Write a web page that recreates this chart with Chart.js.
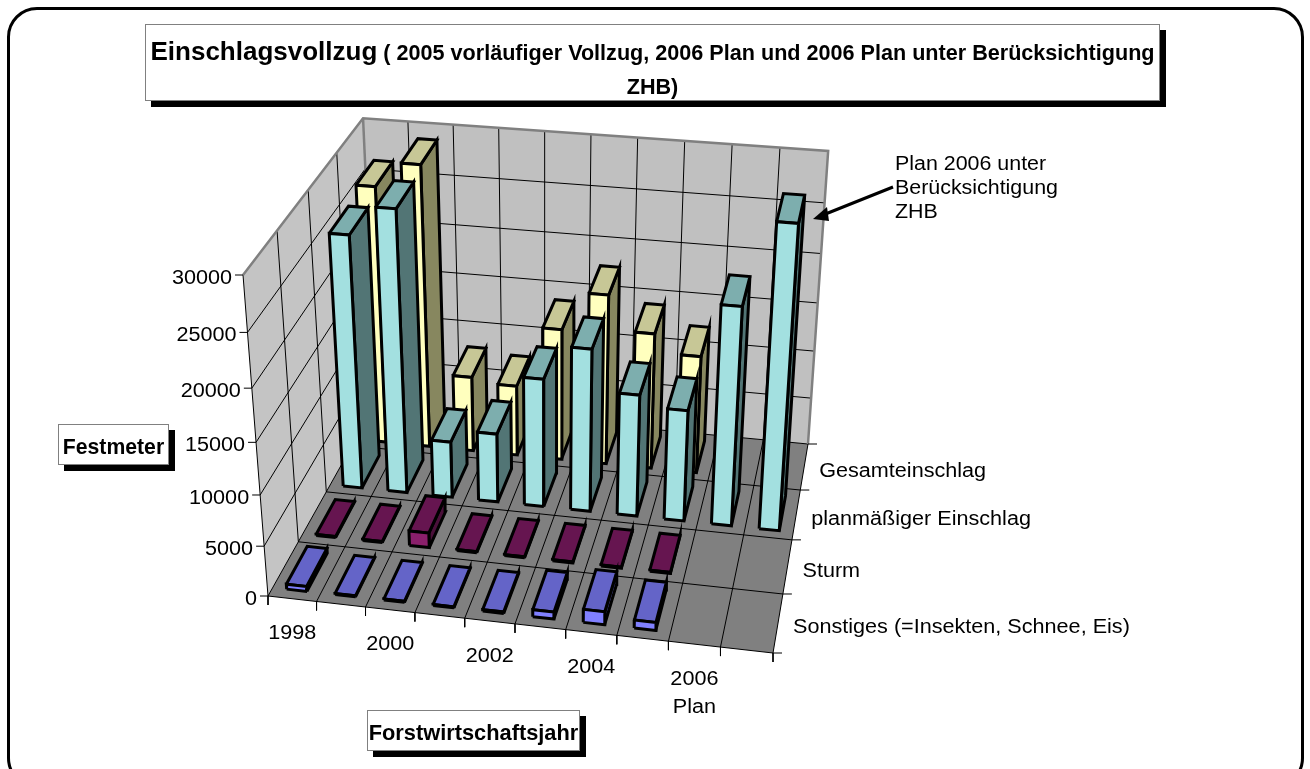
<!DOCTYPE html>
<html>
<head>
<meta charset="utf-8">
<script src="https://cdn.jsdelivr.net/npm/chart.js@4/dist/chart.umd.js"></script>
<style>
  html, body { margin:0; padding:0; background:#fff; overflow:hidden; }
  body { width:1310px; height:769px; position:relative; font-family:"Liberation Sans",Arial,sans-serif; color:#000; }
  #frame { position:absolute; left:7px; top:7px; width:1291px; height:775px; border:3px solid #000; border-radius:30px; }
  canvas { position:absolute; left:0; top:0; }
  .box { position:absolute; background:#fff; border:1px solid #808080; box-shadow:6px 6px 0 #000; font-weight:bold; text-align:center; box-sizing:border-box; white-space:nowrap; }
  #title { left:145px; top:24px; width:1015px; height:77px; line-height:34px; font-size:21.6px; padding-top:9px; }
  #title b { font-size:26px; }
  #yname { left:58px; top:424px; width:111px; height:41px; line-height:44px; font-size:21.2px; }
  #xname { left:367px; top:710px; width:213px; height:41px; line-height:43px; font-size:21.8px; }
  #note { position:absolute; left:895px; top:151px; font-size:20px; line-height:24px; transform:scaleX(1.07); transform-origin:0 0; }
</style>
</head>
<body>
<div id="frame"></div>
<canvas id="chart" width="1310" height="769"></canvas>
<div class="box" id="title"><b>Einschlagsvollzug</b> ( 2005 vorläufiger Vollzug, 2006 Plan und 2006 Plan unter Berücksichtigung<br>ZHB)</div>
<div class="box" id="yname">Festmeter</div>
<div class="box" id="xname">Forstwirtschaftsjahr</div>
<div id="note">Plan 2006 unter<br>Berücksichtigung<br>ZHB</div>
<script>
var categories = ['1998','1999','2000','2001','2002','2003','2004','2005','2006 Plan','2006 Plan ZHB'];
var seriesNames = ['Sonstiges (=Insekten, Schnee, Eis)','Sturm','planmäßiger Einschlag','Gesamteinschlag'];
var valueTicks = [0,5000,10000,15000,20000,25000,30000];
var yearLabels = ['1998','','2000','','2002','','2004','','2006',''];

var sonstiges = [500,100,100,100,150,700,1300,800];
var sturm = [100,100,1500,100,100,100,100,100];
var planmaessig = [25500,28300,5800,7100,13100,16500,12400,11300,21800,29800];
var gesamt = [26450,28900,7900,7400,13700,17600,14100,12200];

var seriesValues = [sonstiges,sturm,planmaessig,gesamt];
var seriesColors = [
  {front:'#8080FF',top:'#6464C8',side:'#5050A8'},
  {front:'#8A1F6B',top:'#661550',side:'#4A103A'},
  {front:'#A3E0E0',top:'#7DAEAE',side:'#527575'},
  {front:'#FFFFBE',top:'#C7C796',side:'#87875F'}
];

// corners of the floor on the page, and where the uprights meet
var floorFL = [268,596], floorFR = [773,653], floorBR = [808,444], floorBL = [376,403];
var vanish = [549,4208], topFLy = 275;

var dx1 = floorFR[0]-floorBR[0], dx2 = floorBL[0]-floorBR[0], sx = floorFL[0]-floorFR[0]+floorBR[0]-floorBL[0];
var dy1 = floorFR[1]-floorBR[1], dy2 = floorBL[1]-floorBR[1], sy = floorFL[1]-floorFR[1]+floorBR[1]-floorBL[1];
var den = dx1*dy2-dx2*dy1;
var g = (sx*dy2-dx2*sy)/den, h = (dx1*sy-sx*dy1)/den;
var a = floorFR[0]-floorFL[0]+g*floorFR[0], b = floorBL[0]-floorFL[0]+h*floorBL[0], c = floorFL[0];
var d = floorFR[1]-floorFL[1]+g*floorFR[1], e = floorBL[1]-floorFL[1]+h*floorBL[1], f = floorFL[1];
var m = (topFLy-floorFL[1])/(vanish[1]-topFLy);

var maxValue = valueTicks[valueTicks.length-1];
function project(cat, row, value) {
  var s = cat/categories.length, t = row/seriesNames.length, z = value/maxValue;
  var w = g*s+h*t+1+m*z;
  return {x:(a*s+b*t+c+m*z*vanish[0])/w, y:(d*s+e*t+f+m*z*vanish[1])/w};
}

var shapes = [];
function addShape(pts, fillColor, lineColor, lineWidth) {
  shapes.push({
    data: pts,
    showLine: true,
    fill: fillColor ? 'shape' : false,
    backgroundColor: fillColor || 'transparent',
    borderColor: lineColor || 'transparent',
    borderWidth: lineWidth || 0,
    pointRadius: 0,
    order: -shapes.length
  });
}

var nc = categories.length, nr = seriesNames.length;
// walls and floor
addShape([project(0,nr,0),project(nc,nr,0),project(nc,nr,maxValue),project(0,nr,maxValue),project(0,nr,0)],'#C0C0C0');
addShape([project(0,0,0),project(0,nr,0),project(0,nr,maxValue),project(0,0,maxValue),project(0,0,0)],'#C4C4C4');
addShape([project(0,0,0),project(nc,0,0),project(nc,nr,0),project(0,nr,0),project(0,0,0)],'#808080');
// grid
valueTicks.forEach(function(v){
  if (v == 0 || v == maxValue) return;
  addShape([project(0,0,v),project(0,nr,v),project(nc,nr,v)],null,'#000',1);
});
for (var i=1;i<nc;i++) addShape([project(i,nr,0),project(i,nr,maxValue)],null,'#000',1);
for (var j=1;j<nr;j++) addShape([project(0,j,0),project(0,j,maxValue)],null,'#000',1);
for (var i=0;i<=nc;i++) addShape([project(i,0,0),project(i,nr,0)],null,'#000',1);
for (var j=0;j<=nr;j++) addShape([project(0,j,0),project(nc,j,0)],null,'#000',1);
addShape([project(0,0,0),project(0,0,maxValue)],null,'#000',1);
addShape([project(0,0,maxValue),project(0,nr,maxValue),project(nc,nr,maxValue),project(nc,nr,0)],null,'#808080',2.5);
addShape([project(0,nr,0),project(0,nr,maxValue)],null,'#808080',2.5);
// ticks
valueTicks.forEach(function(v){
  var p = project(0,0,v);
  addShape([{x:p.x-8,y:p.y},p],null,'#000',1);
});
for (var i=0;i<=nc;i++) { var p = project(i,0,0); addShape([p,{x:p.x,y:p.y+9}],null,'#000',1); }
for (var j=0;j<=nr;j++) { var p = project(nc,j,0); addShape([p,{x:p.x+9,y:p.y}],null,'#000',1); }

// bars, back row first
var barMarginX = 0.29, barMarginY = 0.15;
for (var r=nr-1;r>=0;r--) {
  seriesValues[r].forEach(function(val,i){
    var x0=i+barMarginX, x1=i+1-barMarginX, y0=r+barMarginY, y1=r+1-barMarginY;
    var col = seriesColors[r];
    addShape([project(x1,y0,0),project(x1,y1,0),project(x1,y1,val),project(x1,y0,val),project(x1,y0,0)],col.side,'#000',3);
    addShape([project(x0,y0,val),project(x1,y0,val),project(x1,y1,val),project(x0,y1,val),project(x0,y0,val)],col.top,'#000',3);
    addShape([project(x0,y0,0),project(x1,y0,0),project(x1,y0,val),project(x0,y0,val),project(x0,y0,0)],col.front,'#000',3);
  });
}

var axisText = {
  id:'axisText',
  afterDraw:function(chart){
    var ctx = chart.ctx;
    function label(t,x,y,align){
      ctx.save();
      ctx.translate(x,y);
      ctx.scale(1.08,1);
      ctx.textAlign = align;
      ctx.fillText(t,0,0);
      ctx.restore();
    }
    ctx.save();
    ctx.fillStyle = '#000';
    ctx.font = '20px "Liberation Sans"';
    ctx.textBaseline = 'middle';
    valueTicks.forEach(function(v){
      var p = project(0,0,v);
      label(String(v),p.x-11,p.y+3,'right');
    });
    yearLabels.forEach(function(t,i){
      if (!t) return;
      var p = project(i+0.5,0,0);
      label(t,p.x,p.y+35,'center');
      if (t == '2006') label('Plan',p.x,p.y+63,'center');
    });
    seriesNames.forEach(function(t,j){
      var p = project(nc,j+0.5,0);
      label(t,p.x+15,p.y+5,'left');
    });
    // arrow of the note
    var tail = [893,187], tip = [813,219];
    ctx.strokeStyle = '#000';
    ctx.lineWidth = 3;
    ctx.beginPath(); ctx.moveTo(tail[0],tail[1]); ctx.lineTo(tip[0]+10,tip[1]-4); ctx.stroke();
    ctx.beginPath(); ctx.moveTo(tip[0],tip[1]); ctx.lineTo(tip[0]+14,tip[1]-12); ctx.lineTo(tip[0]+16,tip[1]+2); ctx.closePath(); ctx.fill();
    ctx.restore();
  }
};

new Chart(document.getElementById('chart').getContext('2d'), {
  type:'scatter',
  data:{datasets:shapes},
  plugins:[axisText],
  options:{
    responsive:false,
    animation:false,
    layout:{padding:0},
    plugins:{legend:{display:false},tooltip:{enabled:false},title:{display:false}},
    scales:{
      x:{type:'linear',min:0,max:1310,display:false},
      y:{type:'linear',min:0,max:769,reverse:true,display:false}
    }
  }
});
</script>
</body>
</html>
